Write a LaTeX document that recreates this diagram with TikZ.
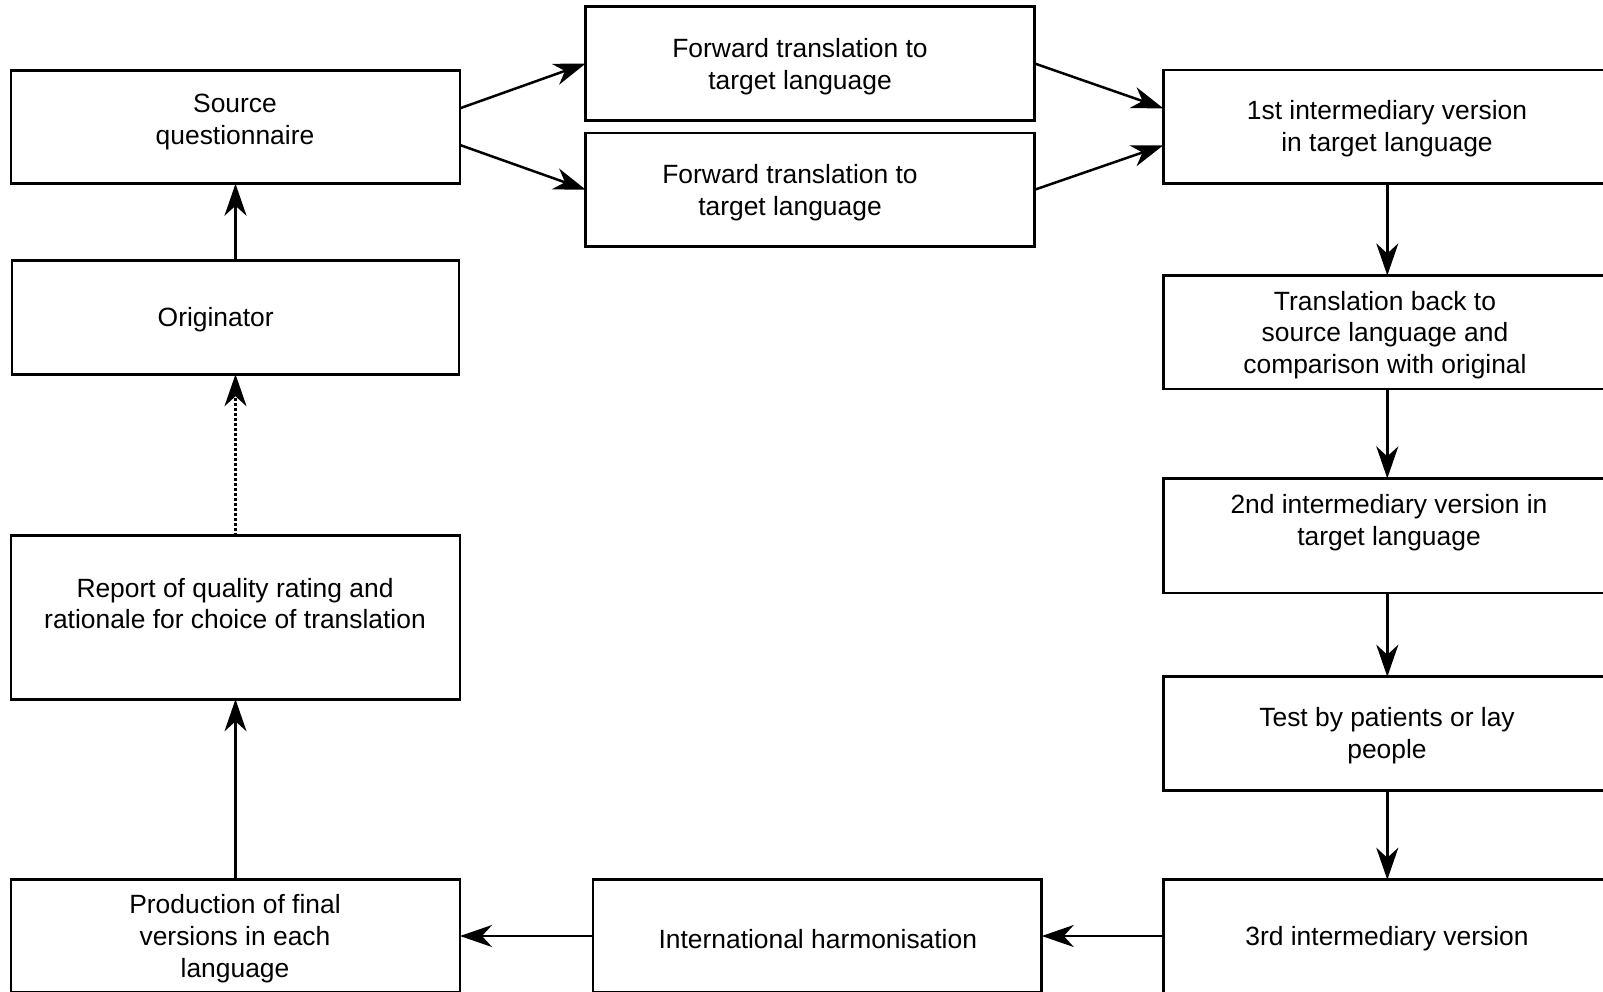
\documentclass[tikz,border=0pt]{standalone}
\usepackage{fontspec}
\setmainfont{Liberation Sans}
\usetikzlibrary{arrows.meta}

\tikzset{
  stagebox/.style={draw=black, line width=2.6pt, rectangle, inner sep=0pt, outer sep=0pt,
    minimum width=449pt, minimum height=113.5pt},
  caption/.style={align=center, inner sep=0pt, yshift=-3pt, font=\fontsize{26.4}{31.7}\selectfont},
  flow/.style={line width=2.5pt, -{Stealth[length=32pt, width=22pt, inset=10pt]}},
  dotflow/.style={flow, dash pattern=on 2.5pt off 2.5pt}
}

\begin{document}
\begin{tikzpicture}[x=1pt, y=-1pt]
\path[use as bounding box] (0,0) rectangle (1603,992);
\clip (0,0) rectangle (1603,992);

% left column
\node[stagebox] (src) at (235.5,127) {};
\node[stagebox, minimum width=447pt] (orig) at (235.6,317.5) {};
\node[stagebox, minimum height=163.6pt] (report) at (235.5,617.5) {};
\node[stagebox] (prod) at (235.5,936) {};

% forward translations
\node[stagebox] (fw1) at (810.2,63.5) {};
\node[stagebox] (fw2) at (810.2,189.7) {};

% right column
\node[stagebox, minimum width=448pt] (int1) at (1387.3,126.8) {};
\node[stagebox, minimum width=448pt] (back) at (1387.3,332.2) {};
\node[stagebox, minimum width=448pt, minimum height=114.6pt] (int2) at (1387.3,535.7) {};
\node[stagebox, minimum width=448pt] (test) at (1387.3,733.5) {};
\node[stagebox, minimum width=448pt] (int3) at (1387.3,936.5) {};

% bottom middle
\node[stagebox, minimum width=448.7pt] (intl) at (817.4,936) {};

% captions
\node[caption] at (235,119) {Source\\questionnaire};
\node[caption] at (215.7,317) {Originator};
\node[caption] at (235,600.6) {Report of quality rating and\\rationale for choice of translation};
\node[caption] at (235,935.5) {Production of final\\versions in each\\language};
\node[caption] at (800,64) {Forward translation to\\target language};
\node[caption] at (790,189.5) {Forward translation to\\target language};
\node[caption] at (1387,126) {1st intermediary version\\in target language};
\node[caption] at (1385,332) {Translation back to\\source language and\\comparison with original};
\node[caption] at (1389,520) {2nd intermediary version in\\target language};
\node[caption] at (1387,732.5) {Test by patients or lay\\people};
\node[caption] at (1387,936) {3rd intermediary version};
\node[caption] at (817.8,936) {International harmonisation};

% connectors
\draw[flow] ([yshift=18.7pt]src.east) -- (fw1.west);
\draw[flow] ([yshift=-18pt]src.east) -- (fw2.west);
\draw[flow] (fw1.east) -- ([yshift=18.5pt]int1.west);
\draw[flow] (fw2.east) -- ([yshift=-18.5pt]int1.west);
\draw[flow] (int1.south) -- (back.north);
\draw[flow] (back.south) -- (int2.north);
\draw[flow] (int2.south) -- (test.north);
\draw[flow] (test.south) -- (int3.north);
\draw[flow] (int3.west |- intl.east) -- (intl.east);
\draw[flow] (intl.west) -- (prod.east);
\draw[flow] (prod.north) -- (report.north |- report.south);
\draw[dotflow] (report.north) -- (orig.south -| report.north);
\draw[flow] (orig.north -| src.south) -- (src.south);
\end{tikzpicture}
\end{document}
